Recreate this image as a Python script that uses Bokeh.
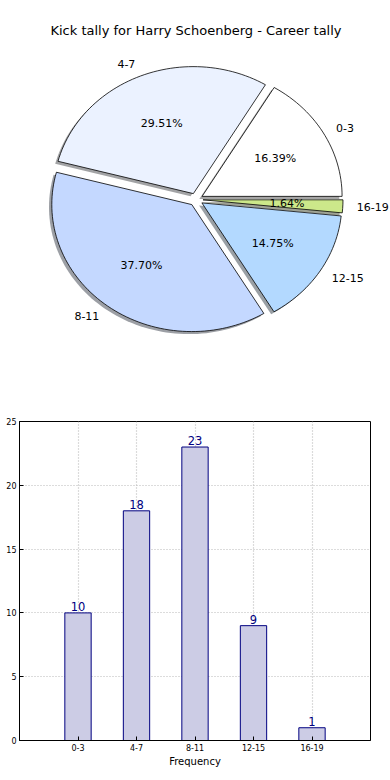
import numpy as np
from bokeh.plotting import figure
from bokeh.models import Range1d, Label, FixedTicker, ColumnDataSource
from bokeh.core.properties import value
from bokeh.embed import file_html
from bokeh.resources import INLINE

# ---- data ----
title_text = "Kick tally for Harry Schoenberg - Career tally"
categories = ["0-3", "4-7", "8-11", "12-15", "16-19"]
counts = [10, 18, 23, 9, 1]
slice_colors = ["#FFFFFF", "#EBF2FF", "#C4D8FF", "#B3D9FF", "#CCE88A"]
y_ticks = [0, 5, 10, 15, 20, 25]
x_label = "Frequency"
watermark = "Dream-Stats.com"

FONT = "DejaVu Sans"

W, H1, H2 = 390, 400, 380

# ---- pie ----
rx, ry = 140.0, 127.0   # px per unit
cx, cy = 195.5, 199.0   # pie centre in canvas px
pie = figure(width=W, height=H1, output_backend="svg", toolbar_location=None,
             x_range=Range1d(-cx / rx, (W - cx) / rx),
             y_range=Range1d(-(H1 - cy) / ry, cy / ry),
             x_axis_location=None, y_axis_location=None,
             min_border=0)
pie.grid.visible = False
pie.outline_line_color = None

total = float(sum(counts))
explode = 0.05
start = 0.0
xs, ys, sxs, sys_, cols, shcols = [], [], [], [], [], []
for cat, v, col in zip(categories, counts, slice_colors):
    frac = v / total
    a0, a1 = start, start + frac * 2 * np.pi
    mid = (a0 + a1) / 2
    ox, oy = explode * np.cos(mid), explode * np.sin(mid)
    t = np.linspace(a0, a1, max(int(frac * 200), 4))
    px = np.concatenate([[ox], ox + np.cos(t)])
    py = np.concatenate([[oy], oy + np.sin(t)])
    xs.append(list(px)); ys.append(list(py))
    sxs.append(list(px - 0.02)); sys_.append(list(py - 0.02))
    cols.append(col)
    r, g, b = int(col[1:3], 16), int(col[3:5], 16), int(col[5:7], 16)
    shcols.append("#%02x%02x%02x" % (int(r * 0.3), int(g * 0.3), int(b * 0.3)))
    lx, ly = (1.1 + explode) * np.cos(mid), (1.1 + explode) * np.sin(mid)
    pie.add_layout(Label(x=lx, y=ly, text=cat, text_font=FONT, text_font_size="11px",
                         text_align="left" if lx > 0 else "right",
                         text_baseline="middle", text_color="black"))
    qx, qy = (0.6 + explode) * np.cos(mid), (0.6 + explode) * np.sin(mid)
    pie.add_layout(Label(x=qx, y=qy, text="%.2f%%" % (frac * 100), text_font=FONT,
                         text_font_size="11px", text_align="center",
                         text_baseline="middle", text_color="black"))
    start = a1

pie.patches(sxs, sys_, fill_color=shcols, fill_alpha=0.5, line_color=None)
pie.patches(xs, ys, fill_color=cols, line_color="black", line_width=0.8)
pie.add_layout(Label(x=0, y=(cy - 30) / ry, text=title_text, text_font=FONT,
                     text_font_size="13px", text_align="center",
                     text_baseline="middle", text_color="black"))

# ---- bar chart ----
BL, BR = 19, 20
xpos = list(range(len(categories)))
src = ColumnDataSource(dict(x=xpos, top=counts, lab=[str(c) for c in counts]))
bar = figure(width=W, height=H2, output_backend="svg", toolbar_location=None,
             x_range=Range1d(-1, len(categories)), y_range=Range1d(0, 25),
             min_border_left=BL, min_border_right=BR, min_border_top=21,
             min_border_bottom=40)
bar.vbar(x="x", top="top", width=0.45, source=src, fill_color="#CCCCE5",
         line_color="#000080", line_width=1)
bar.text(x="x", y="top", text="lab", source=src, text_align="center",
         text_baseline="bottom", y_offset=-2, text_font=value(FONT),
         text_font_size="11.5px", text_color="#000080")

bar.xaxis.ticker = FixedTicker(ticks=xpos)
bar.xaxis.major_label_overrides = {i: c for i, c in zip(xpos, categories)}
bar.yaxis.ticker = FixedTicker(ticks=y_ticks)
for ax in (bar.xaxis, bar.yaxis):
    ax.major_label_text_font = FONT
    ax.major_label_text_font_size = "8px"
    ax.major_label_text_color = "black"
    ax.major_tick_in = 4
    ax.major_tick_out = 0
    ax.minor_tick_in = 0
    ax.minor_tick_out = 0
    ax.axis_line_color = "black"
    ax.major_tick_line_color = "black"
    ax.major_label_standoff = 3
bar.xaxis.axis_label = x_label
bar.xaxis.axis_label_text_font = FONT
bar.xaxis.axis_label_text_font_size = "10px"
bar.xaxis.axis_label_text_font_style = "normal"
bar.xaxis.axis_label_text_color = "black"
bar.xaxis.axis_label_standoff = 2
bar.grid.grid_line_color = "#B8B8B8"
bar.grid.grid_line_dash = "1 2"
bar.grid.grid_line_width = 1.2
bar.outline_line_color = "black"
bar.outline_line_alpha = 1
bar.add_layout(Label(x=0, y=0, x_units="screen", y_units="screen", x_offset=-BL,
                     y_offset=-36, text=watermark, text_font=FONT,
                     text_font_size="12px", text_font_style="bold",
                     text_color="#A0A0A0", text_baseline="bottom"))

open("out.html", "w").write(file_html([pie, bar], INLINE))
